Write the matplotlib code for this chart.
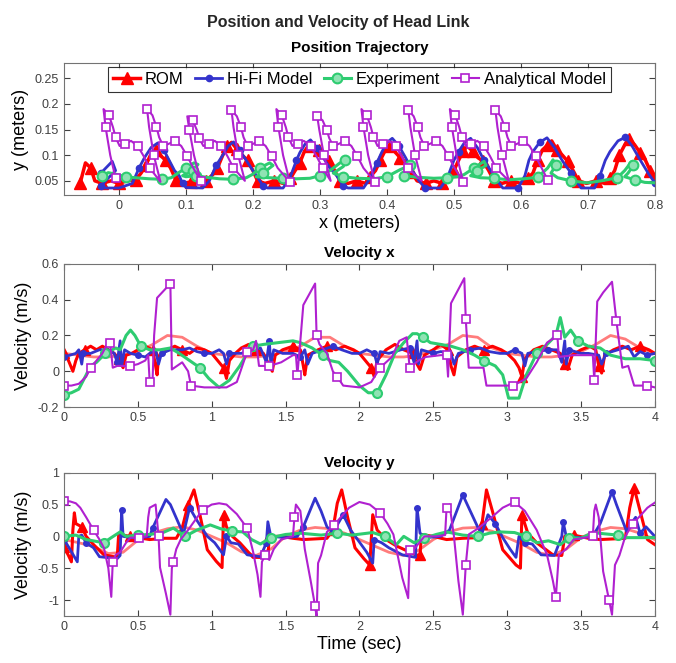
import numpy as np
import matplotlib
matplotlib.use('Agg')
import matplotlib.pyplot as plt

plt.rcParams['font.family'] = ['Liberation Sans', 'DejaVu Sans']

# ---- position trajectory (x, y) in meters ----
rom_pos = [(-0.058, 0.045), (-0.05, 0.085), (-0.042, 0.075), (-0.036, 0.05), (-0.025, 0.045), (-0.012, 0.05),
           (0.0, 0.045), (0.012, 0.05), (0.025, 0.052), (0.033, 0.065), (0.04, 0.08), (0.047, 0.1), (0.055, 0.11),
           (0.063, 0.098), (0.07, 0.09), (0.077, 0.075), (0.085, 0.052), (0.095, 0.045), (0.108, 0.048),
           (0.12, 0.045), (0.13, 0.05), (0.14, 0.062), (0.147, 0.075), (0.155, 0.1), (0.162, 0.118),
           (0.168, 0.125), (0.176, 0.112), (0.184, 0.1), (0.192, 0.09), (0.2, 0.07), (0.207, 0.05),
           (0.218, 0.045), (0.232, 0.05), (0.245, 0.045), (0.256, 0.055), (0.263, 0.07), (0.27, 0.085),
           (0.277, 0.108), (0.284, 0.118), (0.29, 0.122), (0.298, 0.11), (0.306, 0.1), (0.314, 0.088),
           (0.322, 0.07), (0.33, 0.05), (0.342, 0.045), (0.355, 0.05), (0.368, 0.045), (0.375, 0.058),
           (0.383, 0.07), (0.39, 0.09), (0.397, 0.108), (0.405, 0.118), (0.413, 0.105), (0.42, 0.095),
           (0.428, 0.085), (0.436, 0.068), (0.445, 0.05), (0.458, 0.045), (0.47, 0.05), (0.483, 0.045),
           (0.492, 0.055), (0.5, 0.07), (0.507, 0.09), (0.514, 0.108), (0.52, 0.118), (0.528, 0.108),
           (0.536, 0.095), (0.544, 0.088), (0.552, 0.07), (0.56, 0.05), (0.572, 0.045), (0.585, 0.05),
           (0.6, 0.045), (0.61, 0.055), (0.618, 0.065), (0.625, 0.09), (0.632, 0.11), (0.64, 0.12),
           (0.646, 0.128), (0.654, 0.11), (0.662, 0.1), (0.67, 0.088), (0.678, 0.07), (0.686, 0.05),
           (0.698, 0.045), (0.712, 0.05), (0.725, 0.045), (0.733, 0.055), (0.74, 0.07), (0.747, 0.1),
           (0.755, 0.12), (0.762, 0.132), (0.77, 0.12), (0.778, 0.105), (0.786, 0.09), (0.793, 0.07), (0.8, 0.05)]

hifi_pos = [(-0.027, 0.065), (-0.01, 0.088), (-0.005, 0.07), (-0.02, 0.05), (-0.027, 0.04), (-0.02, 0.036),
            (0.0, 0.036), (0.02, 0.045), (0.03, 0.075), (0.038, 0.095), (0.048, 0.115), (0.058, 0.124),
            (0.067, 0.11), (0.075, 0.09), (0.083, 0.07), (0.09, 0.06), (0.095, 0.045), (0.1, 0.037),
            (0.125, 0.036), (0.135, 0.05), (0.145, 0.08), (0.155, 0.1), (0.163, 0.118), (0.171, 0.126),
            (0.18, 0.11), (0.19, 0.09), (0.2, 0.07), (0.208, 0.055), (0.215, 0.04), (0.222, 0.036),
            (0.245, 0.036), (0.255, 0.055), (0.265, 0.09), (0.27, 0.105), (0.278, 0.122), (0.286, 0.13),
            (0.295, 0.115), (0.305, 0.095), (0.315, 0.075), (0.325, 0.06), (0.335, 0.04), (0.342, 0.036),
            (0.365, 0.036), (0.375, 0.055), (0.385, 0.085), (0.392, 0.105), (0.4, 0.125), (0.408, 0.133),
            (0.418, 0.118), (0.428, 0.095), (0.438, 0.07), (0.448, 0.05), (0.457, 0.036), (0.48, 0.036),
            (0.49, 0.055), (0.5, 0.09), (0.507, 0.107), (0.516, 0.125), (0.525, 0.133), (0.535, 0.115),
            (0.545, 0.09), (0.555, 0.07), (0.565, 0.05), (0.573, 0.036), (0.596, 0.036), (0.606, 0.06),
            (0.612, 0.09), (0.618, 0.107), (0.628, 0.125), (0.639, 0.134), (0.65, 0.115), (0.663, 0.087),
            (0.675, 0.065), (0.683, 0.048), (0.69, 0.036), (0.71, 0.036), (0.718, 0.06), (0.726, 0.09),
            (0.733, 0.107), (0.745, 0.128), (0.756, 0.135), (0.766, 0.118), (0.778, 0.091), (0.79, 0.065),
            (0.8, 0.046)]

exp_pos = [(-0.025, 0.06), (-0.016, 0.066), (-0.005, 0.063), (0.01, 0.058), (0.025, 0.056), (0.045, 0.054),
           (0.065, 0.053), (0.078, 0.056), (0.088, 0.065), (0.1, 0.075), (0.112, 0.085), (0.118, 0.082),
           (0.11, 0.07), (0.095, 0.06), (0.1, 0.058), (0.115, 0.06), (0.13, 0.057), (0.15, 0.054),
           (0.17, 0.053), (0.19, 0.056), (0.2, 0.063), (0.21, 0.075), (0.225, 0.085), (0.23, 0.08),
           (0.215, 0.065), (0.205, 0.058), (0.225, 0.056), (0.245, 0.055), (0.265, 0.054), (0.285, 0.055),
           (0.3, 0.06), (0.315, 0.07), (0.33, 0.085), (0.338, 0.09), (0.335, 0.078), (0.32, 0.065),
           (0.335, 0.058), (0.355, 0.055), (0.38, 0.054), (0.4, 0.058), (0.41, 0.065), (0.42, 0.072),
           (0.435, 0.08), (0.44, 0.075), (0.43, 0.065), (0.425, 0.06), (0.445, 0.057), (0.47, 0.055),
           (0.49, 0.056), (0.505, 0.058), (0.515, 0.062), (0.53, 0.075), (0.545, 0.088), (0.548, 0.08),
           (0.535, 0.07), (0.525, 0.06), (0.54, 0.056), (0.56, 0.055), (0.582, 0.052), (0.605, 0.054),
           (0.625, 0.057), (0.64, 0.075), (0.648, 0.091), (0.652, 0.08), (0.645, 0.065), (0.655, 0.056),
           (0.675, 0.05), (0.699, 0.046), (0.72, 0.05), (0.744, 0.056), (0.755, 0.07), (0.765, 0.087),
           (0.768, 0.08), (0.76, 0.065), (0.755, 0.058), (0.77, 0.052), (0.785, 0.047), (0.8, 0.046)]

ana_pos = [(-0.005, 0.055), (-0.013, 0.1), (-0.02, 0.155), (-0.023, 0.19),
           (-0.015, 0.178), (-0.009, 0.155), (-0.005, 0.135), (0.001, 0.118), (0.009, 0.122), (0.018, 0.128),
           (0.028, 0.118), (0.037, 0.098), (0.046, 0.075),
           (0.062, 0.048), (0.052, 0.1), (0.045, 0.155), (0.042, 0.19),
           (0.05, 0.178), (0.056, 0.155), (0.06, 0.135), (0.066, 0.118), (0.074, 0.122), (0.083, 0.128),
           (0.093, 0.118), (0.102, 0.098), (0.111, 0.075),
           (0.122, 0.05), (0.112, 0.1), (0.105, 0.15), (0.102, 0.176),
           (0.11, 0.168), (0.116, 0.15), (0.12, 0.133), (0.126, 0.118), (0.134, 0.122), (0.143, 0.128),
           (0.153, 0.118), (0.162, 0.098), (0.171, 0.075),
           (0.188, 0.05), (0.178, 0.1), (0.171, 0.155), (0.168, 0.188),
           (0.176, 0.176), (0.182, 0.155), (0.186, 0.135), (0.192, 0.118), (0.2, 0.122), (0.209, 0.128),
           (0.219, 0.118), (0.228, 0.098), (0.237, 0.075),
           (0.255, 0.048), (0.245, 0.1), (0.238, 0.155), (0.235, 0.19),
           (0.243, 0.178), (0.249, 0.155), (0.253, 0.135), (0.259, 0.118), (0.267, 0.122), (0.276, 0.128),
           (0.286, 0.118), (0.295, 0.098), (0.304, 0.075),
           (0.316, 0.05), (0.306, 0.1), (0.299, 0.15), (0.296, 0.176),
           (0.304, 0.168), (0.31, 0.15), (0.314, 0.133), (0.32, 0.118), (0.328, 0.122), (0.337, 0.128),
           (0.347, 0.118), (0.356, 0.098), (0.365, 0.075),
           (0.382, 0.048), (0.372, 0.1), (0.365, 0.155), (0.362, 0.19),
           (0.37, 0.178), (0.376, 0.155), (0.38, 0.135), (0.386, 0.118), (0.394, 0.122), (0.403, 0.128),
           (0.413, 0.118), (0.422, 0.098), (0.431, 0.075),
           (0.452, 0.05), (0.442, 0.1), (0.435, 0.155), (0.432, 0.188),
           (0.44, 0.176), (0.446, 0.155), (0.45, 0.135), (0.456, 0.118), (0.464, 0.122), (0.473, 0.128),
           (0.483, 0.118), (0.492, 0.098), (0.501, 0.075),
           (0.514, 0.048), (0.504, 0.1), (0.497, 0.155), (0.494, 0.19),
           (0.502, 0.178), (0.508, 0.155), (0.512, 0.135), (0.518, 0.118), (0.526, 0.122), (0.535, 0.128),
           (0.545, 0.118), (0.554, 0.098), (0.563, 0.075),
           (0.582, 0.05), (0.572, 0.1), (0.565, 0.155), (0.562, 0.188),
           (0.57, 0.176), (0.576, 0.155), (0.58, 0.135), (0.586, 0.118), (0.594, 0.122), (0.603, 0.128),
           (0.613, 0.118), (0.622, 0.098), (0.631, 0.075), (0.64, 0.052)]

# ---- velocity x (t, v) ----
rom_vx = [(0.0, 0.1), (0.02, 0.08), (0.04, 0.04), (0.06, 0.0), (0.08, 0.06), (0.1, 0.1), (0.14, 0.12),
          (0.18, 0.14), (0.22, 0.12), (0.26, 0.14), (0.3, 0.12), (0.34, 0.1), (0.37, 0.07), (0.4, 0.02),
          (0.42, 0.09), (0.46, 0.1), (0.5, 0.12), (0.55, 0.14), (0.6, 0.12), (0.62, 0.03), (0.63, -0.02),
          (0.64, 0.08), (0.7, 0.12), (0.75, 0.14), (0.8, 0.12), (0.85, 0.1), (0.9, 0.13), (0.95, 0.12),
          (1.0, 0.1), (1.04, 0.06), (1.08, 0.02), (1.1, -0.04), (1.12, 0.06), (1.16, 0.1), (1.2, 0.13),
          (1.25, 0.15), (1.3, 0.12), (1.35, 0.1), (1.38, 0.05), (1.41, 0.0), (1.43, 0.09), (1.48, 0.12),
          (1.55, 0.14), (1.6, 0.12), (1.62, 0.03), (1.63, -0.02), (1.65, 0.09), (1.72, 0.12), (1.78, 0.14),
          (1.84, 0.12), (1.9, 0.14), (1.96, 0.12), (2.0, 0.1), (2.04, 0.06), (2.08, 0.02), (2.1, -0.03),
          (2.12, 0.06), (2.18, 0.12), (2.24, 0.15), (2.3, 0.12), (2.36, 0.1), (2.39, 0.04), (2.41, 0.01),
          (2.44, 0.09), (2.5, 0.12), (2.55, 0.15), (2.6, 0.12), (2.62, 0.03), (2.64, -0.02), (2.66, 0.08),
          (2.72, 0.12), (2.78, 0.14), (2.84, 0.12), (2.9, 0.14), (2.96, 0.12), (3.0, 0.1), (3.05, 0.06),
          (3.08, 0.02), (3.1, -0.03), (3.12, 0.07), (3.18, 0.12), (3.24, 0.14), (3.3, 0.12), (3.36, 0.1),
          (3.39, 0.04), (3.41, 0.01), (3.44, 0.09), (3.5, 0.12), (3.56, 0.14), (3.6, 0.12), (3.62, 0.03),
          (3.64, -0.01), (3.66, 0.09), (3.72, 0.12), (3.78, 0.14), (3.84, 0.12), (3.9, 0.14), (3.96, 0.12),
          (4.0, 0.1)]

rom_ref_t = [0.0, 0.1, 0.2, 0.3, 0.4, 0.5, 0.6, 0.7, 0.8, 0.9, 1.0, 1.1, 1.2, 1.3, 1.4, 1.5, 1.6, 1.7,
             1.8, 1.9, 2.0, 2.1, 2.2, 2.3, 2.4, 2.5, 2.6, 2.7, 2.8, 2.9, 3.0, 3.1, 3.2, 3.3, 3.4, 3.5,
             3.6, 3.7, 3.8, 3.9, 4.0]
rom_ref_vx = [0.10, 0.09, 0.08, 0.08, 0.09, 0.11, 0.15, 0.2, 0.19, 0.14, 0.1, 0.09, 0.08, 0.08, 0.09,
              0.11, 0.14, 0.19, 0.19, 0.14, 0.1, 0.09, 0.08, 0.08, 0.09, 0.12, 0.15, 0.2, 0.19, 0.13,
              0.1, 0.09, 0.08, 0.08, 0.09, 0.11, 0.15, 0.2, 0.18, 0.13, 0.1]
rom_ref_vy = [-0.05, -0.1, -0.16, -0.27, -0.25, -0.06, 0.05, 0.12, 0.15, 0.1, 0.0, -0.1, -0.24, -0.3,
              -0.2, 0.0, 0.1, 0.14, 0.12, 0.05, -0.05, -0.15, -0.25, -0.3, -0.22, -0.05, 0.07, 0.13,
              0.14, 0.08, -0.02, -0.12, -0.25, -0.3, -0.2, -0.02, 0.08, 0.14, 0.12, 0.05, -0.05]

hifi_vx = [(0.0, 0.08), (0.04, 0.09), (0.08, 0.1), (0.1, 0.12), (0.12, 0.04), (0.13, 0.1), (0.18, 0.1),
           (0.24, 0.12), (0.3, 0.12), (0.34, 0.1), (0.36, 0.05), (0.38, 0.17), (0.39, 0.03), (0.41, 0.12),
           (0.45, 0.1), (0.5, 0.09), (0.55, 0.08), (0.58, 0.1), (0.62, 0.12), (0.64, 0.04), (0.66, 0.1),
           (0.72, 0.12), (0.8, 0.12), (0.85, 0.13), (0.9, 0.11), (0.95, 0.1), (1.0, 0.1), (1.05, 0.12),
           (1.08, 0.1), (1.1, 0.04), (1.12, 0.1), (1.2, 0.1), (1.28, 0.12), (1.33, 0.13), (1.37, 0.05),
           (1.39, 0.17), (1.4, 0.04), (1.42, 0.12), (1.48, 0.1), (1.55, 0.1), (1.6, 0.08), (1.63, 0.12),
           (1.65, 0.04), (1.68, 0.1), (1.75, 0.12), (1.82, 0.14), (1.88, 0.12), (1.95, 0.1), (2.0, 0.1),
           (2.05, 0.12), (2.1, 0.1), (2.12, 0.04), (2.14, 0.11), (2.2, 0.1), (2.28, 0.12), (2.34, 0.13),
           (2.37, 0.05), (2.39, 0.17), (2.4, 0.04), (2.42, 0.12), (2.5, 0.1), (2.55, 0.11), (2.62, 0.1),
           (2.64, 0.04), (2.67, 0.1), (2.75, 0.12), (2.82, 0.13), (2.88, 0.11), (2.95, 0.1), (3.0, 0.1),
           (3.05, 0.12), (3.1, 0.1), (3.12, 0.03), (3.14, 0.1), (3.2, 0.11), (3.28, 0.12), (3.34, 0.12),
           (3.37, 0.05), (3.39, 0.17), (3.4, 0.04), (3.42, 0.12), (3.5, 0.1), (3.55, 0.1), (3.62, 0.09),
           (3.64, 0.04), (3.67, 0.1), (3.75, 0.12), (3.82, 0.14), (3.86, 0.08), (3.9, 0.11), (3.95, 0.09),
           (4.0, 0.1)]

exp_vx = [(0.0, -0.13), (0.05, -0.12), (0.1, -0.1), (0.15, -0.02), (0.18, 0.03), (0.22, 0.05), (0.28, 0.1),
          (0.35, 0.13), (0.38, 0.12), (0.42, 0.2), (0.45, 0.23), (0.48, 0.2), (0.52, 0.14), (0.58, 0.12),
          (0.65, 0.12), (0.72, 0.13), (0.78, 0.1), (0.85, 0.06), (0.92, 0.02), (0.98, -0.04), (1.05, -0.09),
          (1.12, -0.05), (1.19, 0.03), (1.24, 0.1), (1.28, 0.14), (1.35, 0.15), (1.45, 0.16), (1.55, 0.17),
          (1.6, 0.16), (1.68, 0.13), (1.75, 0.09), (1.8, 0.06), (1.86, 0.05), (1.92, 0.0), (2.0, -0.08),
          (2.06, -0.12), (2.12, -0.12), (2.18, -0.02), (2.24, 0.1), (2.3, 0.16), (2.36, 0.21), (2.39, 0.21),
          (2.43, 0.19), (2.48, 0.16), (2.55, 0.15), (2.62, 0.14), (2.7, 0.12), (2.78, 0.09), (2.84, 0.06),
          (2.92, 0.03), (2.97, -0.02), (3.01, -0.15), (3.08, -0.15), (3.13, -0.02), (3.2, 0.1), (3.27, 0.15),
          (3.33, 0.2), (3.36, 0.3), (3.39, 0.19), (3.43, 0.23), (3.48, 0.17), (3.55, 0.14), (3.63, 0.13),
          (3.7, 0.09), (3.8, 0.07), (3.9, 0.07), (4.0, 0.06)]

ana_vx = [(0.0, -0.08), (0.05, -0.08), (0.1, -0.07), (0.15, -0.03), (0.18, 0.02), (0.22, 0.06), (0.26, 0.1),
          (0.29, 0.15), (0.31, 0.16), (0.32, 0.1), (0.33, 0.02), (0.36, 0.03), (0.45, 0.03), (0.5, 0.04),
          (0.55, 0.06), (0.57, 0.09), (0.58, -0.06), (0.6, -0.04), (0.61, 0.2), (0.63, 0.41), (0.72, 0.49),
          (0.73, 0.01), (0.8, 0.05), (0.84, 0.0), (0.86, -0.08), (0.95, -0.09), (1.1, -0.09), (1.17, -0.06),
          (1.24, 0.11), (1.28, 0.12), (1.3, 0.17), (1.32, 0.03), (1.39, 0.03), (1.47, 0.05), (1.55, 0.09),
          (1.57, 0.09), (1.58, -0.02), (1.6, 0.17), (1.62, 0.37), (1.7, 0.49), (1.71, 0.2), (1.73, 0.15),
          (1.78, 0.1), (1.82, 0.0), (1.85, -0.03), (1.89, -0.08), (2.0, -0.09), (2.08, -0.06), (2.14, 0.02),
          (2.22, 0.08), (2.27, 0.17), (2.32, 0.19), (2.34, 0.02), (2.4, 0.06), (2.45, 0.08), (2.55, 0.09),
          (2.59, 0.09), (2.6, -0.03), (2.62, 0.38), (2.71, 0.52), (2.72, 0.29), (2.74, 0.02), (2.84, 0.02),
          (2.86, -0.08), (3.04, -0.08), (3.13, -0.04), (3.2, 0.05), (3.27, 0.16), (3.34, 0.2), (3.35, 0.08),
          (3.45, 0.09), (3.58, 0.09), (3.59, -0.05), (3.61, 0.39), (3.65, 0.44), (3.71, 0.5), (3.74, 0.28),
          (3.78, 0.02), (3.82, 0.03), (3.86, -0.08), (3.95, -0.08), (4.0, -0.09)]

# ---- velocity y (t, v) ----
rom_vy = [(0.0, -0.17), (0.03, -0.3), (0.05, -0.4), (0.06, 0.1), (0.07, 0.37), (0.08, 0.2), (0.12, 0.15),
          (0.15, 0.0), (0.2, -0.13), (0.27, -0.29), (0.36, -0.33), (0.37, 0.03), (0.45, 0.0), (0.5, -0.02),
          (0.58, -0.05), (0.68, -0.03), (0.76, -0.03), (0.8, 0.13), (0.84, 0.5), (0.88, 0.73), (0.92, 0.34),
          (0.97, -0.21), (1.03, -0.39), (1.07, -0.49), (1.08, 0.34), (1.1, 0.15), (1.14, 0.0), (1.19, -0.1),
          (1.28, -0.33), (1.38, -0.33), (1.39, 0.0), (1.47, 0.0), (1.55, -0.03), (1.62, -0.05), (1.7, -0.04),
          (1.78, -0.03), (1.82, 0.1), (1.85, 0.52), (1.88, 0.73), (1.92, 0.3), (1.97, -0.18), (2.03, -0.35),
          (2.07, -0.45), (2.09, 0.34), (2.12, 0.1), (2.18, -0.05), (2.25, -0.15), (2.38, -0.29), (2.41, -0.3),
          (2.42, 0.03), (2.5, 0.0), (2.59, -0.05), (2.7, -0.03), (2.8, -0.02), (2.83, 0.2), (2.86, 0.73),
          (2.9, 0.4), (2.97, -0.21), (3.06, -0.45), (3.09, -0.5), (3.1, 0.34), (3.14, 0.05), (3.2, -0.1),
          (3.31, -0.29), (3.37, -0.3), (3.39, 0.0), (3.45, 0.02), (3.55, -0.03), (3.63, -0.05), (3.72, -0.04),
          (3.8, -0.03), (3.83, 0.45), (3.86, 0.76), (3.9, 0.4), (3.95, -0.05), (4.0, -0.13)]

hifi_vy = [(0.0, -0.05), (0.04, -0.2), (0.09, -0.4), (0.1, 0.0), (0.12, 0.02), (0.15, -0.1), (0.2, -0.18),
           (0.24, -0.32), (0.36, -0.35), (0.38, -0.3), (0.39, 0.42), (0.4, 0.0), (0.45, -0.02), (0.52, -0.02),
           (0.58, 0.0), (0.6, 0.13), (0.69, 0.58), (0.72, 0.5), (0.79, 0.13), (0.81, 0.05), (0.85, 0.45),
           (0.9, 0.25), (0.97, 0.0), (1.02, -0.1), (1.08, -0.29), (1.1, 0.0), (1.13, -0.1), (1.18, -0.12),
           (1.24, -0.29), (1.33, -0.32), (1.37, -0.1), (1.38, 0.23), (1.4, 0.0), (1.5, -0.02), (1.58, 0.0),
           (1.62, 0.15), (1.7, 0.6), (1.74, 0.4), (1.78, 0.15), (1.82, 0.06), (1.89, 0.34), (1.94, 0.1),
           (2.0, -0.09), (2.05, -0.25), (2.09, -0.42), (2.1, -0.05), (2.15, -0.1), (2.2, -0.18), (2.29, -0.29),
           (2.38, -0.33), (2.39, 0.45), (2.41, 0.05), (2.45, -0.02), (2.55, 0.0), (2.61, 0.1), (2.7, 0.65),
           (2.73, 0.5), (2.8, 0.15), (2.83, 0.05), (2.87, 0.34), (2.92, 0.2), (2.97, -0.02), (3.02, -0.2),
           (3.06, -0.33), (3.08, 0.0), (3.12, -0.1), (3.17, -0.12), (3.23, -0.29), (3.32, -0.3), (3.37, 0.0),
           (3.38, 0.22), (3.4, 0.0), (3.5, -0.02), (3.58, 0.0), (3.63, 0.2), (3.71, 0.7), (3.74, 0.5),
           (3.81, 0.07), (3.84, 0.2), (3.87, 0.3), (3.9, 0.05), (3.94, 0.15), (4.0, 0.0)]

exp_vy = [(0.0, 0.0), (0.08, 0.02), (0.15, -0.05), (0.22, -0.08), (0.27, -0.1), (0.32, -0.02), (0.38, 0.07),
          (0.42, 0.0), (0.5, 0.02), (0.58, 0.03), (0.67, 0.06), (0.74, 0.13), (0.82, 0.0), (0.9, 0.1),
          (0.99, 0.18), (1.06, 0.12), (1.14, 0.08), (1.21, 0.07), (1.27, -0.05), (1.33, -0.12), (1.4, -0.02),
          (1.5, 0.03), (1.6, 0.05), (1.74, 0.02), (1.85, 0.05), (1.95, 0.02), (2.02, 0.04), (2.09, 0.06),
          (2.17, 0.0), (2.25, -0.13), (2.3, 0.0), (2.37, -0.1), (2.44, -0.03), (2.52, 0.03), (2.59, 0.07),
          (2.7, 0.02), (2.8, 0.0), (2.88, 0.05), (2.95, 0.07), (3.05, 0.06), (3.13, 0.0), (3.2, -0.1),
          (3.28, -0.07), (3.36, -0.13), (3.42, -0.02), (3.5, -0.03), (3.58, 0.06), (3.66, 0.04), (3.75, 0.02),
          (3.8, -0.02), (3.9, -0.02), (4.0, -0.02)]

ana_vy = [(0.0, 0.55), (0.04, 0.55), (0.08, 0.52), (0.11, 0.45), (0.15, 0.3), (0.2, 0.1), (0.24, -0.05),
          (0.27, -0.18), (0.3, -0.5), (0.32, -0.95), (0.33, -0.4), (0.35, -0.29), (0.38, -0.25), (0.42, -0.1),
          (0.45, -0.02), (0.51, -0.02), (0.56, 0.0), (0.57, 0.3), (0.58, 0.45), (0.62, 0.5), (0.64, 0.0),
          (0.65, -0.49), (0.69, -0.9), (0.72, -1.23), (0.73, -0.5), (0.74, -0.4), (0.76, -0.2), (0.79, -0.05),
          (0.84, 0.1), (0.88, 0.23), (0.94, 0.42), (1.0, 0.5), (1.05, 0.52), (1.1, 0.5), (1.17, 0.35),
          (1.24, 0.13), (1.28, -0.24), (1.31, -0.6), (1.33, -0.95), (1.34, -0.4), (1.36, -0.3), (1.39, -0.37),
          (1.42, -0.2), (1.47, -0.05), (1.55, 0.0), (1.56, 0.3), (1.57, 0.5), (1.6, 0.4), (1.63, -0.2),
          (1.67, -0.7), (1.7, -1.1), (1.71, -1.26), (1.72, -0.42), (1.74, -0.3), (1.78, 0.07), (1.83, 0.18),
          (1.87, 0.29), (1.93, 0.45), (2.0, 0.54), (2.07, 0.5), (2.14, 0.37), (2.19, 0.2), (2.23, 0.03),
          (2.29, -0.65), (2.33, -0.97), (2.34, -0.22), (2.37, -0.2), (2.44, 0.0), (2.52, 0.0), (2.58, 0.02),
          (2.59, 0.45), (2.61, 0.5), (2.64, 0.0), (2.67, -0.7), (2.7, -1.23), (2.72, -0.45), (2.74, 0.03),
          (2.8, 0.12), (2.89, 0.29), (2.97, 0.45), (3.05, 0.54), (3.12, 0.4), (3.2, 0.1), (3.27, -0.29),
          (3.31, -0.7), (3.33, -0.95), (3.35, -0.29), (3.4, -0.2), (3.45, -0.05), (3.5, -0.03), (3.58, 0.0),
          (3.59, 0.4), (3.6, 0.5), (3.62, 0.3), (3.65, -0.55), (3.69, -1.0), (3.71, -1.23), (3.73, -0.45),
          (3.76, -0.3), (3.8, 0.0), (3.85, 0.2), (3.9, 0.32), (3.95, 0.45), (4.0, 0.53)]

RED = '#ff0000'
BLUE = '#3333cc'
GREEN = '#2ecc71'
PURPLE = '#b020d0'
LIGHTRED = '#ff5050'


def xy(pairs):
    a = np.array(pairs)
    return a[:, 0], a[:, 1]


def style_axes(ax):
    ax.tick_params(direction='in', length=4, top=True, right=True, labelsize=9,
                   colors='0.25', width=0.8)
    for s in ax.spines.values():
        s.set_color('0.45')
        s.set_linewidth(0.8)


fig = plt.figure(figsize=(6.76, 6.63), dpi=100)
fig.suptitle('Position and Velocity of Head Link', y=0.978, fontsize=11.5,
             fontweight='bold', color='0.15')

left, width = 0.0947, 0.874

# position trajectory
ax1 = fig.add_axes([left, 0.706, width, 0.199])
x, y = xy(rom_pos)
ax1.plot(x, y, color=RED, lw=2.5, marker='^', ms=8, markevery=2, label='ROM')
x, y = xy(hifi_pos)
ax1.plot(x, y, color=BLUE, lw=2.0, marker='o', ms=4.5, markevery=4, label='Hi-Fi Model')
x, y = xy(exp_pos)
ax1.plot(x, y, color=GREEN, lw=2.2, marker='o', ms=7, mfc='#8fe3b3', mew=1.5,
         markevery=3, label='Experiment')
x, y = xy(ana_pos)
ax1.plot(x, y, color=PURPLE, lw=1.5, marker='s', ms=6, mfc='white', mew=1.2,
         markevery=2, label='Analytical Model')
ax1.set_xlim(-0.082, 0.8)
ax1.set_ylim(0.0225, 0.28)
ax1.set_xticks(np.arange(0, 0.81, 0.1))
ax1.set_xticklabels(['0', '0.1', '0.2', '0.3', '0.4', '0.5', '0.6', '0.7', '0.8'])
ax1.set_yticks([0.05, 0.1, 0.15, 0.2, 0.25])
ax1.set_yticklabels(['0.05', '0.1', '0.15', '0.2', '0.25'])
ax1.set_xlabel('x (meters)', fontsize=13, labelpad=2)
ax1.set_ylabel('y (meters)', fontsize=13, labelpad=4)
ax1.set_title('Position Trajectory', fontsize=11, fontweight='bold', pad=8)
style_axes(ax1)
leg = ax1.legend(loc='upper center', ncol=4, fontsize=12, frameon=True, fancybox=False,
                 edgecolor='black', borderpad=0.3, handlelength=1.6, handletextpad=0.3,
                 columnspacing=0.7, borderaxespad=0.25)
leg.get_frame().set_linewidth(0.8)

# velocity x
ax2 = fig.add_axes([left, 0.386, width, 0.216])
ax2.plot(rom_ref_t, rom_ref_vx, color=LIGHTRED, lw=2.0, alpha=0.75)
t, v = xy(rom_vx)
ax2.plot(t, v, color=RED, lw=2.2, marker='^', ms=6.5, markevery=6)
t, v = xy(hifi_vx)
ax2.plot(t, v, color=BLUE, lw=2.0, marker='o', ms=4, markevery=5)
t, v = xy(exp_vx)
ax2.plot(t, v, color=GREEN, lw=2.2, marker='o', ms=6.5, mfc='#8fe3b3', mew=1.5, markevery=6)
t, v = xy(ana_vx)
ax2.plot(t, v, color=PURPLE, lw=1.5, marker='s', ms=5.5, mfc='white', mew=1.2, markevery=4)
ax2.set_xlim(0, 4)
ax2.set_ylim(-0.2, 0.6)
ax2.set_xticks(np.arange(0, 4.01, 0.5))
ax2.set_xticklabels(['0', '0.5', '1', '1.5', '2', '2.5', '3', '3.5', '4'])
ax2.set_yticks([-0.2, 0, 0.2, 0.4, 0.6])
ax2.set_yticklabels(['-0.2', '0', '0.2', '0.4', '0.6'])
ax2.set_ylabel('Velocity (m/s)', fontsize=13, labelpad=4)
ax2.set_title('Velocity x', fontsize=11, fontweight='bold', pad=5)
style_axes(ax2)

# velocity y
ax3 = fig.add_axes([left, 0.071, width, 0.216])
ax3.plot(rom_ref_t, rom_ref_vy, color=LIGHTRED, lw=2.0, alpha=0.75)
t, v = xy(rom_vy)
ax3.plot(t, v, color=RED, lw=2.2, marker='^', ms=6.5, markevery=6)
t, v = xy(hifi_vy)
ax3.plot(t, v, color=BLUE, lw=2.0, marker='o', ms=4, markevery=5)
t, v = xy(exp_vy)
ax3.plot(t, v, color=GREEN, lw=2.2, marker='o', ms=6.5, mfc='#8fe3b3', mew=1.5, markevery=4)
t, v = xy(ana_vy)
ax3.plot(t, v, color=PURPLE, lw=1.5, marker='s', ms=5.5, mfc='white', mew=1.2, markevery=5)
ax3.set_xlim(0, 4)
ax3.set_ylim(-1.25, 1)
ax3.set_xticks(np.arange(0, 4.01, 0.5))
ax3.set_xticklabels(['0', '0.5', '1', '1.5', '2', '2.5', '3', '3.5', '4'])
ax3.set_yticks([-1, -0.5, 0, 0.5, 1])
ax3.set_yticklabels(['-1', '-0.5', '0', '0.5', '1'])
ax3.set_xlabel('Time (sec)', fontsize=13, labelpad=2)
ax3.set_ylabel('Velocity (m/s)', fontsize=13, labelpad=4)
ax3.set_title('Velocity y', fontsize=11, fontweight='bold', pad=4)
style_axes(ax3)

fig.savefig('out.png', dpi=100)
